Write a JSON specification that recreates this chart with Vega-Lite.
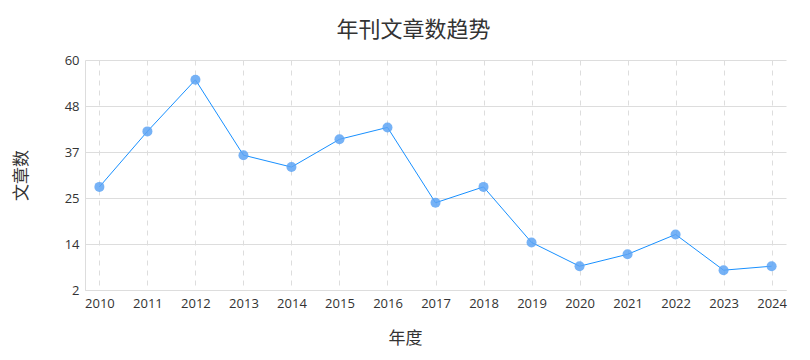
{
  "$schema": "https://vega.github.io/schema/vega-lite/v6.json",
  "width": 701,
  "height": 230,
  "autosize": {"type": "none"},
  "padding": {"left": 85, "top": 60, "right": 24, "bottom": 70},
  "background": "white",
  "title": {
    "text": "年刊文章数趋势",
    "fontSize": 22,
    "fontWeight": "normal",
    "font": "Noto Sans CJK SC",
    "color": "#333333",
    "offset": 12,
    "anchor": "middle",
    "dx": -22
  },
  "config": {
    "view": {"stroke": null},
    "font": "Noto Sans CJK SC"
  },
  "data": {
    "values": [
      {"year": "2010", "count": 28},
      {"year": "2011", "count": 42},
      {"year": "2012", "count": 55},
      {"year": "2013", "count": 36},
      {"year": "2014", "count": 33},
      {"year": "2015", "count": 40},
      {"year": "2016", "count": 43},
      {"year": "2017", "count": 24},
      {"year": "2018", "count": 28},
      {"year": "2019", "count": 14},
      {"year": "2020", "count": 8},
      {"year": "2021", "count": 11},
      {"year": "2022", "count": 16},
      {"year": "2023", "count": 7},
      {"year": "2024", "count": 8}
    ]
  },
  "encoding": {
    "x": {
      "field": "year",
      "type": "ordinal",
      "scale": {"type": "point", "padding": 0.3},
      "axis": {
        "title": "年度",
        "titleFontSize": 17,
        "titleFontWeight": "normal",
        "titleColor": "#333333",
        "titlePadding": 20,
        "titleX": 320,
        "labelFont": "Open Sans",
        "labelFontSize": 13,
        "labelFontWeight": "normal",
        "labelColor": "#333333",
        "labelAngle": 0,
        "labelPadding": 7,
        "ticks": false,
        "domain": true,
        "domainColor": "#dddddd",
        "grid": true,
        "gridDash": [5, 5],
        "gridColor": "#dddddd"
      }
    },
    "y": {
      "field": "count",
      "type": "quantitative",
      "scale": {"domain": [2, 60], "nice": false, "zero": false},
      "axis": {
        "title": "文章数",
        "titleFontSize": 17,
        "titleFontWeight": "normal",
        "titleColor": "#333333",
        "titlePadding": 34,
        "labelFont": "Open Sans",
        "labelFontSize": 13,
        "labelFontWeight": "normal",
        "labelColor": "#333333",
        "labelPadding": 6,
        "values": [2, 13.6, 25.2, 36.8, 48.4, 60],
        "format": ".0f",
        "ticks": false,
        "domain": true,
        "domainColor": "#dddddd",
        "grid": true,
        "gridColor": "#dddddd"
      }
    }
  },
  "layer": [
    {"mark": {"type": "line", "color": "#1890ff", "strokeWidth": 1}},
    {"mark": {"type": "point", "filled": true, "color": "#5ea5f5", "opacity": 0.85, "size": 100}}
  ]
}
